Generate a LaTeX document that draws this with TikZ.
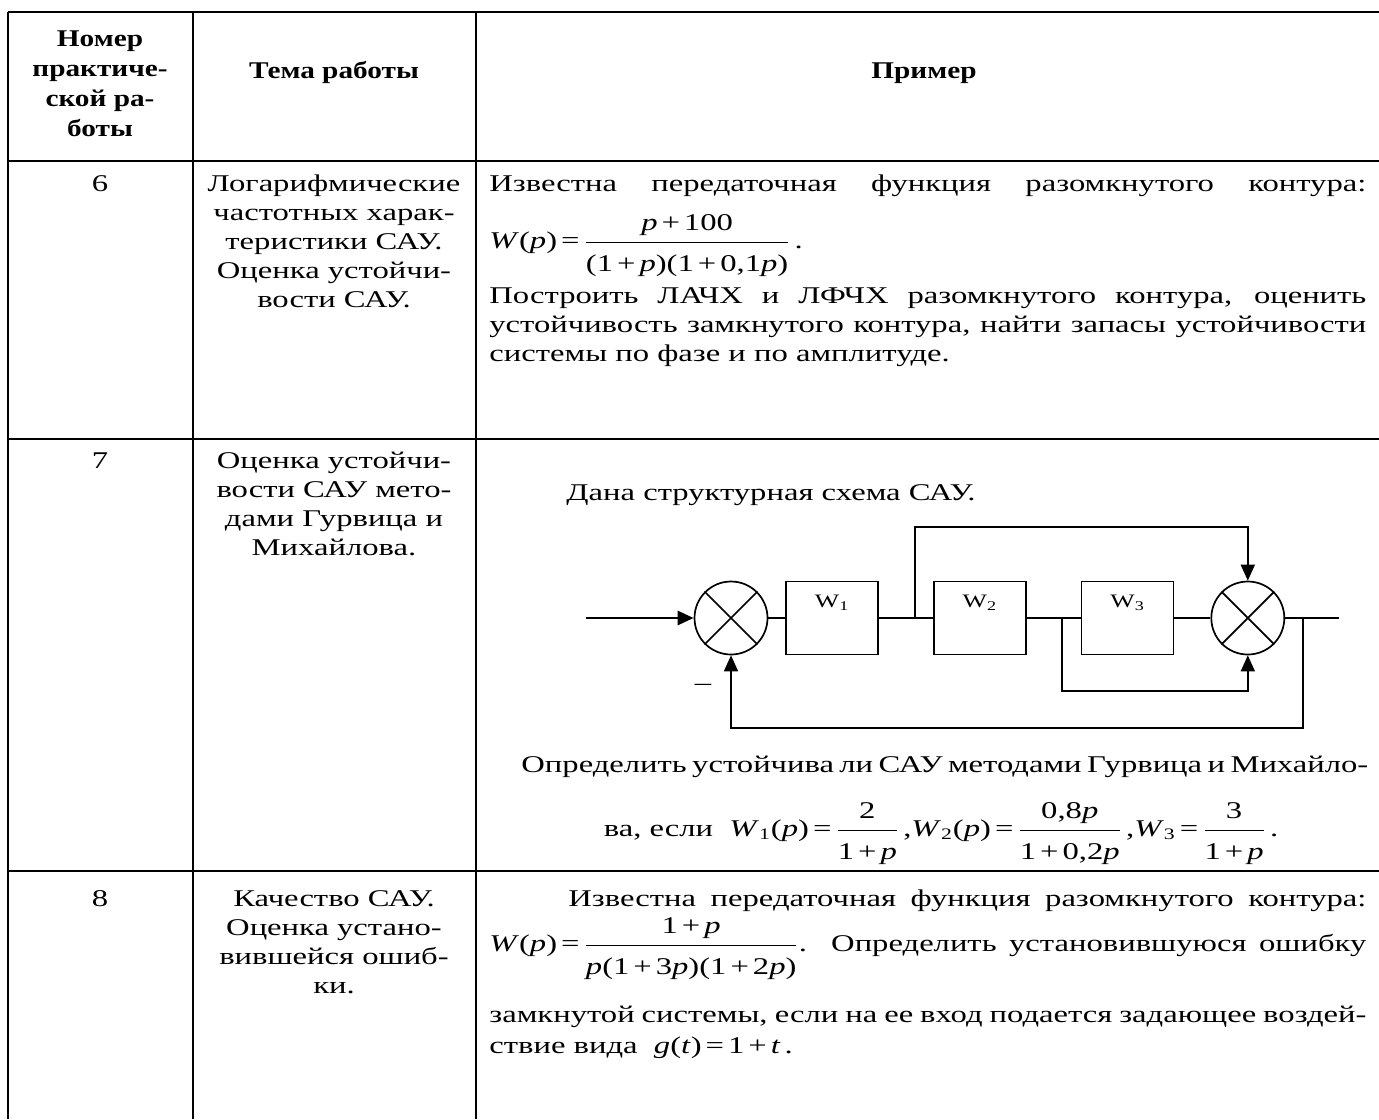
\documentclass[tikz,border=0pt]{standalone}
\usepackage{amsmath}
\usepackage{fontspec}
\setmainfont{Liberation Serif}[FakeStretch=1.36]
\newfontfamily\hdrfont{Liberation Serif}[FakeStretch=1.22]
\usetikzlibrary{positioning}
\usetikzlibrary{arrows.meta}

\newcommand{\iv}[1]{\textit{#1}}
\newcommand{\frc}[2]{\ensuremath{\dfrac{\text{\rule[-4pt]{0pt}{4pt}#1}}{\text{\rule{0pt}{13pt}#2}}}}

\tikzset{
	txt/.style={inner sep=0pt, anchor=base west, font=\fontsize{12}{14}\selectfont},
	ctr/.style={inner sep=0pt, anchor=base, font=\fontsize{12}{14}\selectfont},
	hdr/.style={ctr, font=\fontsize{12}{14}\selectfont\hdrfont\bfseries},
	grid/.style={line width=1.2pt},
	sig/.style={line width=0.85pt},
	summ/.style={draw, sig, circle, minimum size=36.5pt, inner sep=0pt},
	blk/.style={draw, sig, minimum width=46pt, minimum height=36.5pt, inner sep=0pt},
	arr/.style={-{Triangle[width=7pt,length=8pt]}},
	lbl/.style={inner sep=0pt, anchor=north, yshift=-7pt, font=\fontsize{9.5}{10}\selectfont}
}

\begin{document}
\begin{tikzpicture}[x=0.5pt, y=-0.5pt]
	\useasboundingbox (0,0) rectangle (1379,1119);
	%%%%%%%%%% table
	\draw[grid] (8,12) -- (1379,12);
	\draw[grid] (8,161) -- (1379,161);
	\draw[grid] (8,439) -- (1379,439);
	\draw[grid] (8,871) -- (1379,871);
	\draw[grid] (8,12) -- (8,1119);
	\draw[grid] (193,12) -- (193,1119);
	\draw[grid] (476,12) -- (476,1119);
	%%%%%%%%%% header
	\node[hdr] (h1a) at (100,46) {Номер};
	\node[hdr] (h1b) at (100,76) {практиче-};
	\node[hdr] (h1c) at (100,106) {ской ра-};
	\node[hdr] (h1d) at (100,136) {боты};
	\node[hdr] (h2) at (334,78) {Тема работы};
	\node[hdr] (h3) at (924,78) {Пример};
	%%%%%%%%%% row 6
	\node[ctr] (n6) at (100,191) {6};
	\node[ctr] (t6a) at (334,191) {Логарифмические};
	\node[ctr] (t6b) at (334,220) {частотных харак-};
	\node[ctr] (t6c) at (334,249) {теристики САУ.};
	\node[ctr] (t6d) at (334,278) {Оценка устойчи-};
	\node[ctr] (t6e) at (334,307) {вости САУ.};
	\node[txt] (e6a) at (489,191) {\makebox[438.5pt][s]{Известна передаточная функция разомкнутого контура:}};
	\node[txt] (e6b) at (489,248) {\iv{W}(\iv{p})\,=\,\frc{\iv{p}\,+\,100}{(1\,+\,\iv{p})(1\,+\,0,1\iv{p})}\,.};
	\node[txt] (e6c) at (489,303) {\makebox[438.5pt][s]{Построить ЛАЧХ и ЛФЧХ разомкнутого контура, оценить}};
	\node[txt] (e6d) at (489,332) {\makebox[438.5pt][s]{устойчивость замкнутого контура, найти запасы устойчивости}};
	\node[txt] (e6e) at (489,361) {системы по фазе и по амплитуде.};
	%%%%%%%%%% row 7
	\node[ctr] (n7) at (100,468) {7};
	\node[ctr] (t7a) at (334,468) {Оценка устойчи-};
	\node[ctr] (t7b) at (334,497) {вости САУ мето-};
	\node[ctr] (t7c) at (334,526) {дами Гурвица и};
	\node[ctr] (t7d) at (334,555) {Михайлова.};
	\node[txt] (e7a) at (566,500) {Дана структурная схема САУ.};
	\node[txt] (e7b) at (521,772) {\makebox[422pt][s]{Определить устойчива ли САУ методами Гурвица и Михайло-}};
	\node[ctr] (e7c) at (941,836) {ва, если \ \iv{W}\textsubscript{1}(\iv{p})\,=\,\frc{2}{1\,+\,\iv{p}}\,,\iv{W}\textsubscript{2}(\iv{p})\,=\,\frc{0,8\iv{p}}{1\,+\,0,2\iv{p}}\,,\iv{W}\textsubscript{3}\,=\,\frc{3}{1\,+\,\iv{p}}\,.};
	%%%%%%%%%% block diagram
	\node[summ] (s1) at (731,618) {};
	\node[blk, right=8.5pt of s1, label={[lbl]north:W\textsubscript{1}}] (w1) {};
	\node[blk, right=27pt of w1, label={[lbl]north:W\textsubscript{2}}] (w2) {};
	\node[blk, right=27pt of w2, label={[lbl]north:W\textsubscript{3}}] (w3) {};
	\node[summ, right=18pt of w3] (s2) {};
	\coordinate (in) at (586,618);
	\coordinate[right=27pt of s2] (out);
	\coordinate[right=18pt of w1] (b1);
	\coordinate[right=17.5pt of w2] (b2);
	\coordinate[right=9pt of s2] (b3);
	\foreach \s in {s1,s2}
		\draw[sig] (\s.north west) -- (\s.south east) (\s.north east) -- (\s.south west);
	\draw[arr, line width=1.4pt] (in) -- (s1.west);
	\draw[sig] (s1) -- (w1) (w1) -- (w2) (w2) -- (w3) (w3) -- (s2) (s2.east) -- (out);
	\draw[sig, arr] (b1) -- ++(0,-91) -| (s2.north);
	\draw[sig, arr] (b2) -- ++(0,73) -| (s2.south);
	\draw[sig, arr] (b3) -- ++(0,110) -| (s1.south);
	\node[ctr] (minus) at (703,690) {--};
	%%%%%%%%%% row 8
	\node[ctr] (n8) at (100,906) {8};
	\node[ctr] (t8a) at (334,906) {Качество САУ.};
	\node[ctr] (t8b) at (334,935) {Оценка устано-};
	\node[ctr] (t8c) at (334,964) {вившейся ошиб-};
	\node[ctr] (t8d) at (334,993) {ки.};
	\node[txt] (e8a) at (568,906) {\makebox[399pt][s]{Известна передаточная функция разомкнутого контура:}};
	\node[txt] (e8b) at (489,951) {\makebox[438.5pt][s]{\mbox{\iv{W}(\iv{p})\,=\,\frc{1\,+\,\iv{p}}{\iv{p}(1\,+\,3\iv{p})(1\,+\,2\iv{p})}}. Определить установившуюся ошибку}};
	\node[txt] (e8c) at (489,1022) {\makebox[438.5pt][s]{замкнутой системы, если на ее вход подается задающее воздей-}};
	\node[txt] (e8d) at (489,1053) {ствие вида \ \iv{g}(\iv{t})\,=\,1\,+\,\iv{t}\,.};
\end{tikzpicture}
\end{document}
